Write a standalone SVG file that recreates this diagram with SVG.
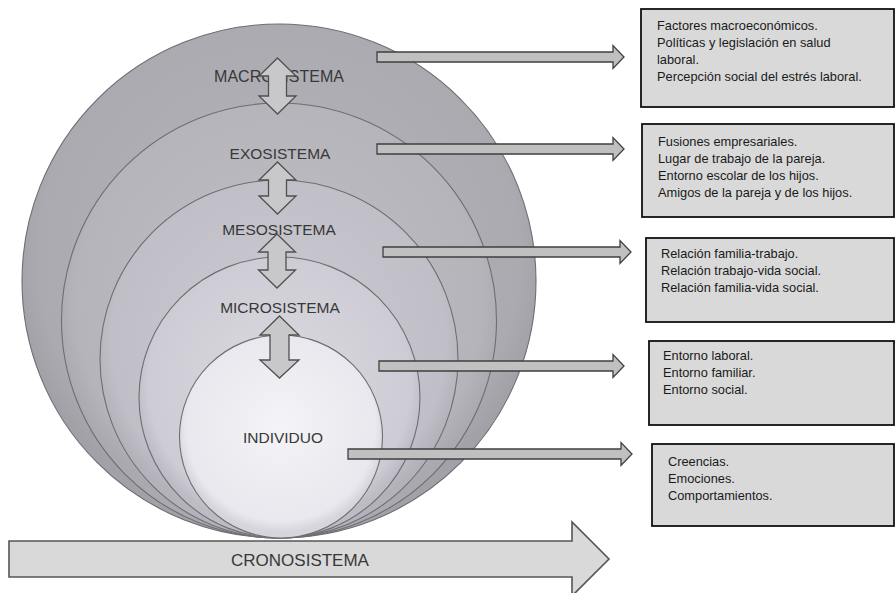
<svg xmlns="http://www.w3.org/2000/svg" width="896" height="593" viewBox="0 0 896 593">
<defs>
<style>
.lbl{font-family:"Liberation Sans",Arial,sans-serif;font-size:15.5px;fill:#383838;text-anchor:middle}
.box{fill:#d9d9d9;stroke:#111;stroke-width:1.8}
.bt{font-family:"Liberation Sans",Arial,sans-serif;font-size:12.8px;fill:#1a1a1a}
.ring{stroke:#6e6d74;stroke-width:1.1}
.harr{fill:#c0c0c0;stroke:#3f3f3f;stroke-width:1.3;stroke-linejoin:miter}
.varr{fill:#c8c8ca;stroke:#505050;stroke-width:1.3}
.crono{fill:#d9d9d9;stroke:#555;stroke-width:1.6}
</style>
<radialGradient id="g1" cx="50%" cy="45%" r="52%"><stop offset="0" stop-color="#b6b5bb"/><stop offset="0.9" stop-color="#abaab0"/><stop offset="1" stop-color="#a2a1a7"/></radialGradient>
<radialGradient id="g2" cx="50%" cy="45%" r="52%"><stop offset="0" stop-color="#c0bfc6"/><stop offset="0.9" stop-color="#b5b4bb"/><stop offset="1" stop-color="#aaa9b0"/></radialGradient>
<radialGradient id="g3" cx="50%" cy="45%" r="52%"><stop offset="0" stop-color="#cccbd3"/><stop offset="0.9" stop-color="#c0bfc7"/><stop offset="1" stop-color="#b3b2ba"/></radialGradient>
<radialGradient id="g4" cx="50%" cy="45%" r="52%"><stop offset="0" stop-color="#dbdae1"/><stop offset="0.9" stop-color="#cdccd4"/><stop offset="1" stop-color="#bdbcc4"/></radialGradient>
<radialGradient id="g5" cx="50%" cy="45%" r="52%"><stop offset="0" stop-color="#f4f3f7"/><stop offset="0.9" stop-color="#e9e8ee"/><stop offset="1" stop-color="#d6d5dc"/></radialGradient>
</defs>
<rect width="896" height="593" fill="#ffffff"/>

<g id="cronosistema">
<path class="crono" d="M9,541 L572,541 L572,522 L609,559 L572,596 L572,577 L9,577 Z"/>
<text class="lbl" x="300" y="566" style="font-size:17px">CRONOSISTEMA</text>
</g>

<g id="macrosistema">
<circle class="ring" cx="279" cy="281" r="257" fill="url(#g1)"/>
<text class="lbl" x="279" y="82" style="font-size:16px">MACROSISTEMA</text>
</g>
<g id="exosistema">
<circle class="ring" cx="279" cy="320.5" r="217.5" fill="url(#g2)"/>
<text class="lbl" x="280" y="159">EXOSISTEMA</text>
</g>
<g id="mesosistema">
<circle class="ring" cx="279" cy="359" r="179" fill="url(#g3)"/>
<text class="lbl" x="279" y="235">MESOSISTEMA</text>
</g>
<g id="microsistema">
<circle class="ring" cx="279.5" cy="397.5" r="140.5" fill="url(#g4)"/>
<text class="lbl" x="280" y="313">MICROSISTEMA</text>
</g>
<g id="individuo">
<circle class="ring" cx="281" cy="436.5" r="101.5" fill="url(#g5)"/>
<text class="lbl" x="283" y="443">INDIVIDUO</text>
</g>

<g id="box-macro">
<rect class="box" x="641" y="9" width="253" height="98"/>
<text class="bt"><tspan x="657" y="30">Factores macroeconómicos.</tspan><tspan x="657" y="47">Políticas y legislación en salud</tspan><tspan x="657" y="64">laboral.</tspan><tspan x="657" y="81">Percepción social del estrés laboral.</tspan></text>
</g>
<g id="box-exo">
<rect class="box" x="642" y="124" width="252" height="93"/>
<text class="bt"><tspan x="658" y="146">Fusiones empresariales.</tspan><tspan x="658" y="163">Lugar de trabajo de la pareja.</tspan><tspan x="658" y="180">Entorno escolar de los hijos.</tspan><tspan x="658" y="197">Amigos de la pareja y de los hijos.</tspan></text>
</g>
<g id="box-meso">
<rect class="box" x="646" y="238" width="248" height="84"/>
<text class="bt"><tspan x="661" y="258">Relación familia-trabajo.</tspan><tspan x="661" y="275">Relación trabajo-vida social.</tspan><tspan x="661" y="292">Relación familia-vida social.</tspan></text>
</g>
<g id="box-micro">
<rect class="box" x="649" y="341" width="245" height="84"/>
<text class="bt"><tspan x="663" y="360">Entorno laboral.</tspan><tspan x="663" y="377">Entorno familiar.</tspan><tspan x="663" y="394">Entorno social.</tspan></text>
</g>
<g id="box-individuo">
<rect class="box" x="652" y="444" width="242" height="82"/>
<text class="bt"><tspan x="668" y="466">Creencias.</tspan><tspan x="668" y="483">Emociones.</tspan><tspan x="668" y="500">Comportamientos.</tspan></text>
</g>

<g id="connectors">
<path class="varr" d="M277.5,58 L296,76 L286.5,76 L286.5,96 L296,96 L277.5,114 L259,96 L268.5,96 L268.5,76 L259,76 Z"/>
<path class="varr" d="M277.5,162 L296,180 L286.5,180 L286.5,196 L296,196 L277.5,214 L259,196 L268.5,196 L268.5,180 L259,180 Z"/>
<path class="varr" d="M277,234 L295.5,252 L286,252 L286,270 L295.5,270 L277,288 L258.5,270 L268,270 L268,252 L258.5,252 Z"/>
<path class="varr" d="M279.5,316 L299,335 L289,335 L289,360 L299,360 L279.5,378 L260,360 L270,360 L270,335 L260,335 Z"/>
<path class="harr" d="M377,52 L613,52 L613,45.5 L624,57 L613,68.5 L613,62 L377,62 Z"/>
<path class="harr" d="M377,144 L613,144 L613,137.5 L624,149 L613,160.5 L613,154 L377,154 Z"/>
<path class="harr" d="M383,247 L620,247 L620,240.5 L631,252 L620,263.5 L620,257 L383,257 Z"/>
<path class="harr" d="M379,361 L613,361 L613,354.5 L624,366 L613,377.5 L613,371 L379,371 Z"/>
<path class="harr" d="M348,449 L621,449 L621,442.5 L632,454 L621,465.5 L621,459 L348,459 Z"/>
</g>
</svg>
